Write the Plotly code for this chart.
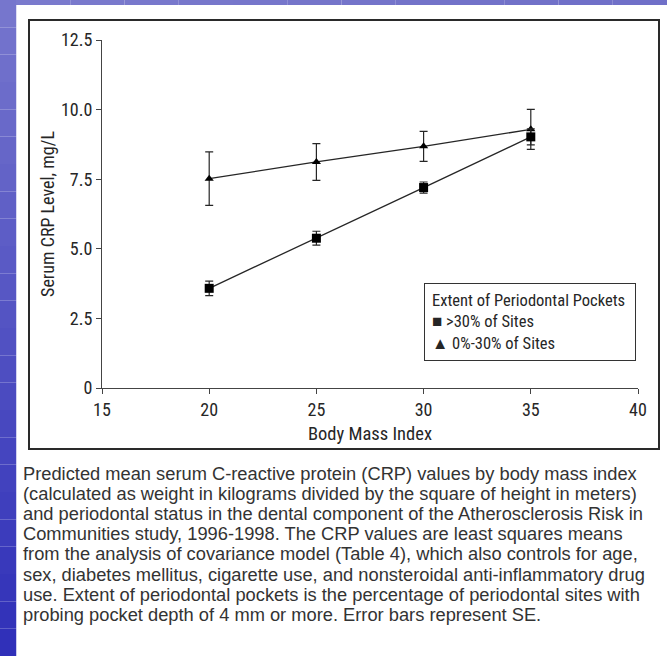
import plotly.graph_objects as go

# ---- data ----
bmi = [20, 25, 30, 35]
crp_high = [3.58, 5.38, 7.20, 9.02]     # >30% of sites (squares)
se_high = [0.26, 0.25, 0.20, 0.29]
crp_low = [7.52, 8.12, 8.68, 9.29]      # 0%-30% of sites (triangles)
se_low = [0.96, 0.66, 0.54, 0.72]

x_ticks = [15, 20, 25, 30, 35, 40]
y_ticks = [0, 2.5, 5, 7.5, 10, 12.5]
y_ticklabels = ["0", "2.5", "5.0", "7.5", "10.0", "12.5"]

legend_title = "Extent of Periodontal Pockets"
series_names = ["&gt;30% of Sites", "0%-30% of Sites"]

caption_lines = [
    "Predicted mean serum C-reactive protein (CRP) values by body mass index",
    "(calculated as weight in kilograms divided by the square of height in meters)",
    "and periodontal status in the dental component of the Atherosclerosis Risk in",
    "Communities study, 1996-1998. The CRP values are least squares means",
    "from the analysis of covariance model (Table 4), which also controls for age,",
    "sex, diabetes mellitus, cigarette use, and nonsteroidal anti-inflammatory drug",
    "use. Extent of periodontal pockets is the percentage of periodontal sites with",
    "probing pocket depth of 4 mm or more. Error bars represent SE.",
]

# ---- geometry (pixels) ----
W, H = 667, 656
L, R, T, B = 102, 638, 40, 388   # plot area edges
FONT = "Liberation Sans Narrow, Arial Narrow, Roboto Condensed, sans-serif"
CAP_FONT = "Liberation Sans, Arial, sans-serif"
INK = "#262626"


def px(x):
    return (x - L) / (R - L)


def py(y):
    return (B - y) / (B - T)


fig = go.Figure()

fig.add_trace(go.Scatter(
    x=bmi, y=crp_low, mode="lines+markers",
    line=dict(color=INK, width=1.3),
    marker=dict(symbol="triangle-up", size=8, color="black"),
    error_y=dict(type="data", array=se_low, color=INK, thickness=1.2, width=4),
    showlegend=False,
))
fig.add_trace(go.Scatter(
    x=bmi, y=crp_high, mode="lines+markers",
    line=dict(color=INK, width=1.3),
    marker=dict(symbol="square", size=9, color="black"),
    error_y=dict(type="data", array=se_high, color=INK, thickness=1.2, width=4),
    showlegend=False,
))

shapes = []
# background gradient strips (left and top) + white page
n = 24
for i in range(n):
    y0 = i * H / n
    y1 = (i + 1) * H / n
    t = i / (n - 1)
    r = int(118 - 70 * t)
    g = int(118 - 70 * t)
    b = int(205 - 20 * t)
    shapes.append(dict(type="rect", xref="paper", yref="paper",
                       x0=px(0), x1=px(16.5), y0=py(y1), y1=py(y0),
                       fillcolor=f"rgb({r},{g},{b})", line=dict(width=0), layer="below"))
m = 12
for i in range(m):
    x0 = 16 + i * (W - 16) / m
    x1 = 16 + (i + 1) * (W - 16) / m
    t = i / (m - 1)
    r = int(122 - 10 * t)
    g = int(122 - 10 * t)
    b = int(205 - 5 * t)
    shapes.append(dict(type="rect", xref="paper", yref="paper",
                       x0=px(x0), x1=px(x1), y0=py(5), y1=py(0),
                       fillcolor=f"rgb({r},{g},{b})", line=dict(width=0), layer="below"))
shapes.append(dict(type="rect", xref="paper", yref="paper",
                   x0=px(16.5), x1=px(W), y0=py(H), y1=py(5),
                   fillcolor="white", line=dict(width=0), layer="below"))
# chart frame
shapes.append(dict(type="rect", xref="paper", yref="paper",
                   x0=px(29), x1=px(659), y0=py(449), y1=py(20),
                   fillcolor="rgba(0,0,0,0)", line=dict(color="#2a2a2a", width=2), layer="below"))

annotations = []
# legend box
sq = '<span style="font-size:17px">■</span>'
tri = '▲'
annotations.append(dict(
    xref="paper", yref="paper", x=px(424), y=py(283), xanchor="left", yanchor="top",
    text=f"{legend_title}<br>{sq} {series_names[0]}<br>{tri} {series_names[1]}",
    align="left", showarrow=False, bordercolor="#333", borderwidth=1, borderpad=7,
    width=196, height=62, valign="middle",
    font=dict(family=FONT, size=16.5, color=INK),
))
# caption
for i, line in enumerate(caption_lines):
    annotations.append(dict(
        xref="paper", yref="paper", x=px(21), y=py(473 + i * 20.2),
        xanchor="left", yanchor="middle", text=line, showarrow=False,
        font=dict(family=CAP_FONT, size=18.3, color="#333"),
    ))

fig.update_layout(
    width=W, height=H,
    margin=dict(l=L, r=W - R, t=T, b=H - B),
    paper_bgcolor="white", plot_bgcolor="rgba(0,0,0,0)",
    font=dict(family=FONT, size=18, color=INK),
    shapes=shapes, annotations=annotations,
    xaxis=dict(range=[15, 40], tickvals=x_ticks, ticks="outside", ticklen=5,
               tickcolor="#444", showline=True, linecolor="#444", linewidth=1,
               showgrid=False, zeroline=False,
               title=dict(text="Body Mass Index", standoff=8, font=dict(size=18.5))),
    yaxis=dict(range=[0, 12.5], tickvals=y_ticks, ticktext=y_ticklabels,
               ticks="outside", ticklen=5, tickcolor="#444",
               showline=True, linecolor="#444", linewidth=1,
               showgrid=False, zeroline=False,
               title=dict(text="Serum CRP Level, mg/L", standoff=1, font=dict(size=18))),
)

fig.write_html("out.html")
